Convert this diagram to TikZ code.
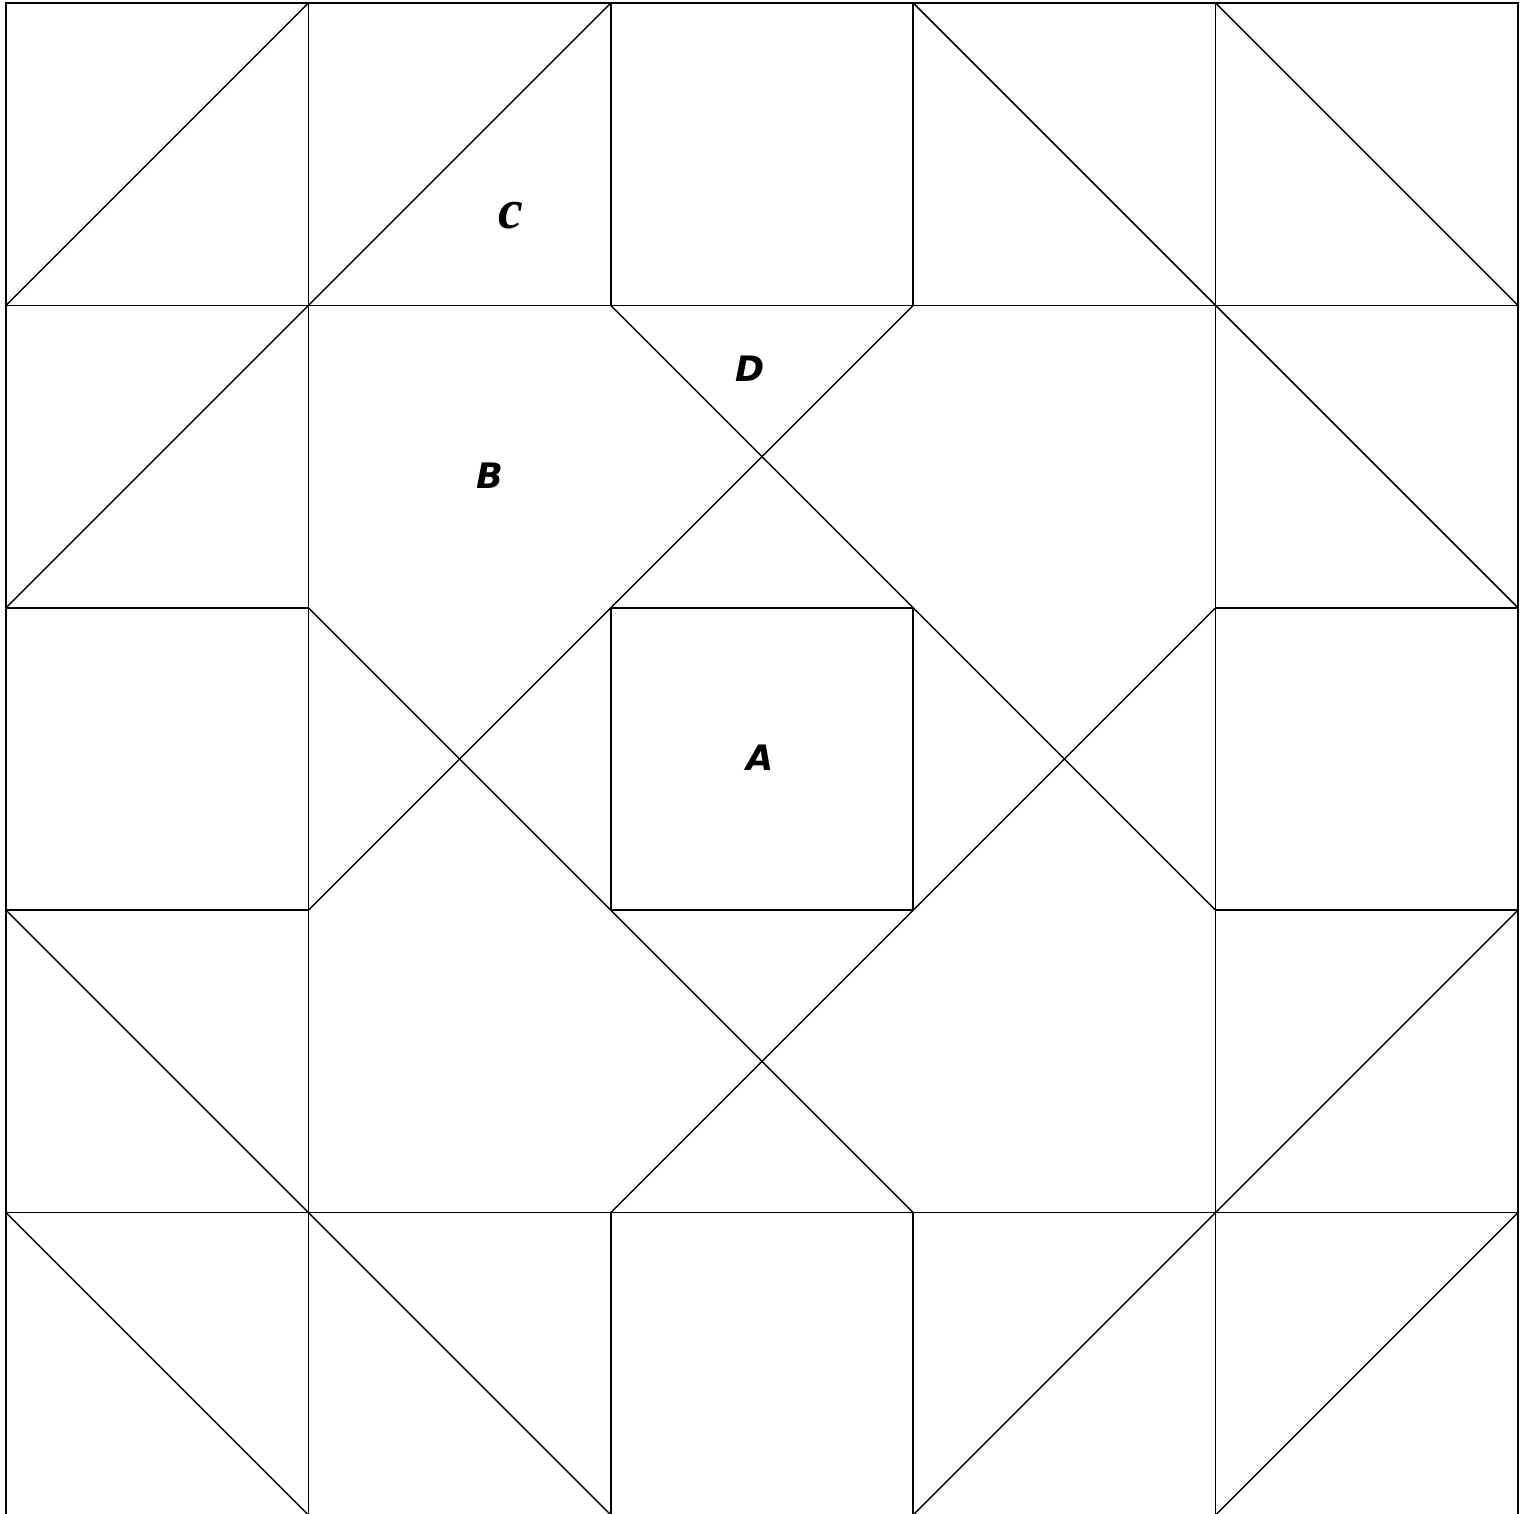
\documentclass[tikz,border=0pt]{standalone}
\usepackage{fontspec}
\newfontfamily\patchfont{DejaVu Sans}
\newfontfamily\patchserif{Liberation Serif}
\usetikzlibrary{positioning}
\tikzset{
  seam/.style={line width=0.27pt, color=black, line cap=round},
  patchlabel/.style={font=\patchfont\bfseries\itshape\fontsize{6.6}{6.6}\selectfont, inner sep=0pt},
  seriflabel/.style={font=\patchserif\bfseries\itshape\fontsize{10.5}{10.5}\selectfont, inner sep=0pt}
}

\begin{document}
\begin{tikzpicture}[x=2cm, y=2cm]
  \useasboundingbox (-0.0198, 0.0066) rectangle (5.0198, 5.0099);

  % --- OUTER FRAME AND FULL SEAMS ---
  \draw[seam] (0,0) rectangle (5,5);
  \foreach \x in {1,4} \draw[seam] (\x,0) -- (\x,5);
  \foreach \y in {1,4} \draw[seam] (0,\y) -- (5,\y);

  % --- BROKEN SEAMS ---
  \foreach \y in {2,3} {
    \draw[seam] (0,\y) -- (1,\y);
    \draw[seam] (2,\y) -- (3,\y);
    \draw[seam] (4,\y) -- (5,\y);
  }
  \foreach \x in {2,3} {
    \draw[seam] (\x,4) -- (\x,5);
    \draw[seam] (\x,2) -- (\x,3);
    \draw[seam] (\x,0) -- (\x,1);
  }

  % --- HALF-SQUARE TRIANGLES (border) ---
  \draw[seam] (0,4) -- (1,5);
  \draw[seam] (1,4) -- (2,5);
  \draw[seam] (3,5) -- (4,4);
  \draw[seam] (4,5) -- (5,4);
  \draw[seam] (0,3) -- (1,4);
  \draw[seam] (4,4) -- (5,3);
  \draw[seam] (0,2) -- (1,1);
  \draw[seam] (4,1) -- (5,2);
  \draw[seam] (0,1) -- (1,0);
  \draw[seam] (1,1) -- (2,0);
  \draw[seam] (3,0) -- (4,1);
  \draw[seam] (4,0) -- (5,1);

  % --- LONG DIAGONALS (star) ---
  \draw[seam] (2,4) -- (4,2);
  \draw[seam] (3,4) -- (1,2);
  \draw[seam] (1,3) -- (3,1);
  \draw[seam] (4,3) -- (2,1);

  % --- PATCH LABELS ---
  \node[patchlabel] (lblA) at (4.987/2, 5.007/2) {A};
  \node[patchlabel] (lblB) at (3.201/2, 6.872/2) {B};
  \node[seriflabel] (lblC) at (3.340/2, 8.591/2) {c};
  \node[patchlabel] (lblD) at (4.921/2, 7.579/2) {D};
\end{tikzpicture}
\end{document}
